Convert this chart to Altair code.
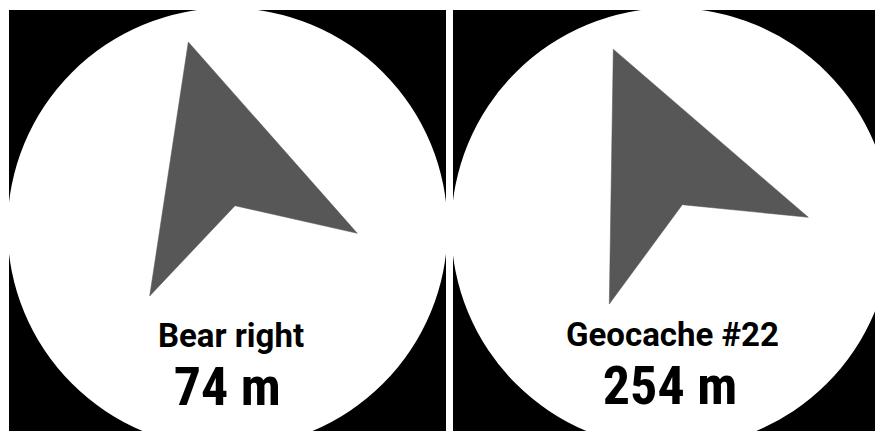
import altair as alt
import pandas as pd

# panel sizes (plot units = pixels); whole chart kept within the 867x423 page area
PANEL_W = [437, 422]
PANEL_H = 421

# watch-face circle centres (panel units)
circle_x = [218.5, 218.3]
circle_y = [218.0, 218.0]
CIRCLE_D = 440  # diameter

# arrow polygons (panel units, y down)
arrow1_x = [179.3, 348.3, 226.0, 140.7]
arrow1_y = [32.0, 223.3, 195.7, 286.0]
arrow2_x = [160.3, 355.3, 229.3, 156.3]
arrow2_y = [39.3, 207.3, 194.7, 294.0]

labels = ["Bear right", "Geocache #22"]
distances = ["74 m", "254 m"]
label_x = [222.0, 219.5]
label_y = [336.7, 336.0]
dist_x = [218.2, 217.0]
dist_y = [395.0, 394.0]

ARROW_COLOR = "#575757"
arrows = [(arrow1_x, arrow1_y), (arrow2_x, arrow2_y)]


def panel(i):
    W = PANEL_W[i]
    xs = alt.Scale(domain=[0, W], nice=False, zero=False)
    ys = alt.Scale(domain=[0, PANEL_H], reverse=True, nice=False, zero=False)

    def enc(**kw):
        return dict(
            x=alt.X("x:Q", scale=xs, axis=None),
            y=alt.Y("y:Q", scale=ys, axis=None),
            **kw,
        )

    circ = alt.Chart(pd.DataFrame({"x": [circle_x[i]], "y": [circle_y[i]]})).mark_point(
        shape="circle", filled=True, fill="white", opacity=1, strokeWidth=0,
        size=CIRCLE_D ** 2, clip=True,
    ).encode(**enc())

    ax, ay = arrows[i]
    arr = alt.Chart(pd.DataFrame({"x": ax, "y": ay, "o": list(range(len(ax)))})).mark_line(
        interpolate="linear-closed", fill=ARROW_COLOR, stroke=ARROW_COLOR,
        strokeWidth=0.5, clip=True,
    ).encode(**enc(order=alt.Order("o:Q")))

    lab = alt.Chart(pd.DataFrame({"x": [label_x[i]], "y": [label_y[i]], "t": [labels[i]]})).mark_text(
        font="Roboto", fontWeight="bold", fontSize=33, color="black",
        align="center", baseline="alphabetic",
    ).encode(**enc(text="t:N"))

    dist = alt.Chart(pd.DataFrame({"x": [dist_x[i]], "y": [dist_y[i]], "t": [distances[i]]})).mark_text(
        font="Liberation Sans Narrow, Roboto Condensed, Roboto", fontWeight="bold",
        fontSize=54, color="black", align="center", baseline="alphabetic",
    ).encode(**enc(text="t:N"))

    return alt.layer(circ, arr, lab, dist).properties(width=W, height=PANEL_H)


chart = alt.hconcat(panel(0), panel(1), spacing=7).properties(
    padding={"left": 1, "top": 2, "right": 0, "bottom": 0},
    background="white",
).configure_view(fill="black", strokeWidth=0)

chart.save("out.html", embed_options={"renderer": "svg", "actions": False})
